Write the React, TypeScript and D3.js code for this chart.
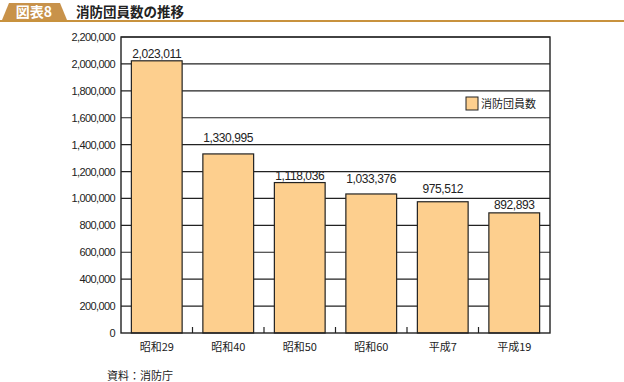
import React from "react";
import * as d3 from "d3";

const categories = ["昭和29", "昭和40", "昭和50", "昭和60", "平成7", "平成19"];
const values = [2023011, 1330995, 1118036, 1033376, 975512, 892893];
const yTicks = [0, 200000, 400000, 600000, 800000, 1000000, 1200000, 1400000, 1600000, 1800000, 2000000, 2200000];
const seriesName = "消防団員数";
const title = "消防団員数の推移";
const badge = "図表8";
const source = "資料：消防庁";

// label gaps above bar tops (layout only)
const labelGap = [3, 12, 3, 11, 9, 4];

const W = 624, H = 382;
const L = 121, R = 550, T = 37, B = 333;
const font = "'Noto Sans CJK JP', 'Noto Sans', sans-serif";
const numFont = "'Liberation Sans', Arial, sans-serif";

export default function App() {
  const x = d3.scaleBand<string>().domain(categories).range([L, R]).paddingInner(0.29).paddingOuter(0.145);
  const y = d3.scaleLinear().domain([0, 2200000]).range([B, T]);
  const fmt = d3.format(",");
  const step = x.step();
  return (
    <svg width={W} height={H} style={{ position: "absolute", left: 0, top: 0, background: "#fff" }}>
      <path d="M2,20 L9,3 L60,3 L67,20 Z" fill="#C8924A" />
      <text x={34} y={17} textAnchor="middle" fill="#fff" fontFamily={font} fontWeight="bold" fontSize={14}>{badge}</text>
      <text x={76} y={17} fill="#222" fontFamily={font} fontWeight="bold" fontSize={13.5}>{title}</text>
      <rect x={0} y={20} width={W} height={2} fill="#C8923E" />
      {yTicks.map(t => (
        <g key={t}>
          {t > 0 && <line x1={L} x2={R} y1={y(t)} y2={y(t)} stroke="#222" strokeWidth={1.2} />}
          <text x={L - 6} y={y(t) + 4} textAnchor="end" fontFamily={numFont} fontSize={11} letterSpacing={-0.6} fill="#222">{fmt(t)}</text>
        </g>
      ))}
      {categories.map((c, i) => i > 0 ? (
        <line key={"tk" + c} x1={L + step * i} x2={L + step * i} y1={B} y2={B - 6} stroke="#222" strokeWidth={1.2} />
      ) : null)}
      {categories.map((c, i) => (
        <g key={c}>
          <rect x={x(c)} y={y(values[i])} width={x.bandwidth()} height={B - y(values[i])} fill="#FDCF8E" stroke="#222" strokeWidth={1.2} />
          <text x={(x(c) as number) + x.bandwidth() / 2} y={y(values[i]) - labelGap[i]} textAnchor="middle" fontFamily={numFont} fontSize={12} letterSpacing={-0.4} fill="#222">{fmt(values[i])}</text>
          <text x={(x(c) as number) + x.bandwidth() / 2} y={351} textAnchor="middle" fontFamily={font} fontSize={11} fill="#222">{c}</text>
        </g>
      ))}
      <rect x={L} y={T} width={R - L} height={B - T} fill="none" stroke="#222" strokeWidth={1.4} />
      <rect x={466} y={97} width={12} height={13} fill="#FDCF8E" stroke="#222" strokeWidth={1} />
      <text x={481} y={108} fontFamily={font} fontSize={11} fill="#222">{seriesName}</text>
      <text x={107} y={380} fontFamily={font} fontSize={11} fill="#222">{source}</text>
    </svg>
  );
}
